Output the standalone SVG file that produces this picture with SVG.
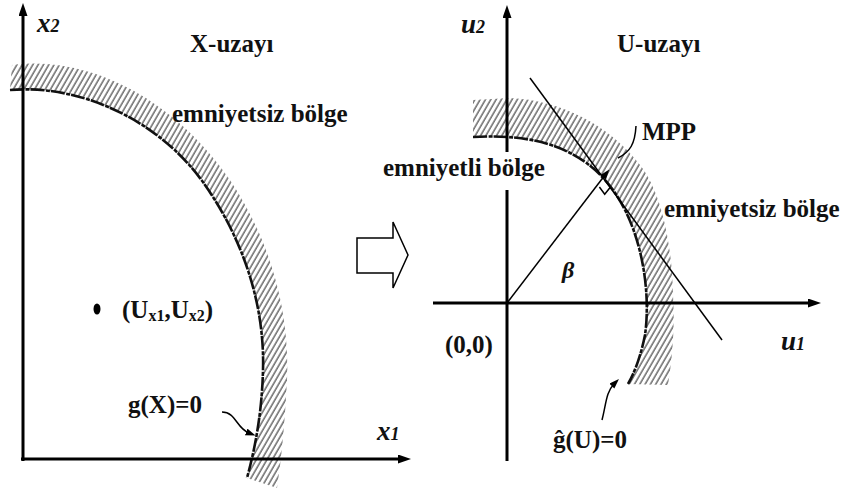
<svg xmlns="http://www.w3.org/2000/svg" width="846" height="491" viewBox="0 0 846 491">
<defs>
<pattern id="hatch" patternUnits="userSpaceOnUse" width="4.6" height="10" patternTransform="rotate(30)">
<rect width="4.6" height="10" fill="#ffffff"/>
<line x1="1" y1="0" x2="1" y2="10" stroke="#333" stroke-width="1.1"/>
</pattern>
<marker id="axisHead" markerUnits="userSpaceOnUse" markerWidth="14" markerHeight="10" refX="5" refY="4.5" orient="auto">
<path d="M0,0 L13,4.5 L0,9 z" fill="#000"/>
</marker>
<marker id="smallHead" markerUnits="userSpaceOnUse" markerWidth="12" markerHeight="10" refX="3" refY="3.5" orient="auto">
<path d="M0,0 L10,3.5 L0,7 z" fill="#000"/>
</marker>
</defs>
<style>
.lbl{font-family:"Liberation Serif","Times New Roman",serif;font-weight:bold;font-size:25px;fill:#111}
.ax{font-family:"Liberation Serif","Times New Roman",serif;font-weight:bold;font-style:italic;font-size:27px;fill:#111}
.sub{font-size:18px}
.lsub{font-size:16px}
.axis{stroke:#000;stroke-width:3;fill:none}
.thin{stroke:#000;stroke-width:1.5;fill:none}
.band{fill:url(#hatch);stroke:none}
.limit{stroke:#111;stroke-width:2.6;fill:none;stroke-dasharray:14 1.5 4 1}
</style>
<rect width="846" height="491" fill="#ffffff"/>

<g id="x-space">
<path class="band" d="M10,90 C80,84 160,120 205,185 C240,235 265,300 263,370 C262,410 256,445 247,478 L277,488 C282,455 285,420 287,380 C290,310 270,240 230,180 C175,100 90,55 12,65 Z"/>
<path class="limit" d="M10,90 C80,84 160,120 205,185 C240,235 265,300 263,370 C262,410 256,445 247,478"/>
<line class="axis" x1="23" y1="461" x2="23" y2="11" marker-end="url(#axisHead)"/>
<line class="axis" x1="21" y1="459" x2="403" y2="459" marker-end="url(#axisHead)"/>
<text class="ax" x="37" y="32">x<tspan class="sub">2</tspan></text>
<text class="ax" x="377" y="440">x<tspan class="sub">1</tspan></text>
<text class="lbl" x="190" y="52">X-uzayı</text>
<text class="lbl" x="172" y="122">emniyetsiz bölge</text>
<ellipse cx="97" cy="309" rx="3.5" ry="5.5" fill="#000"/>
<text class="lbl" x="122" y="318">(U<tspan class="lsub" dy="3">x1</tspan><tspan dy="-3">,U</tspan><tspan class="lsub" dy="3">x2</tspan><tspan dy="-3">)</tspan></text>
<text class="lbl" x="128" y="413">g(X)=0</text>
</g>

<g id="transform-arrow">
<polygon points="357,238 393,238 393,222 408,255 393,288 393,273 357,273" fill="#fff" stroke="#000" stroke-width="1.5" stroke-linejoin="miter"/>
</g>

<g id="u-space">
<path class="band" d="M473,100 L473,137 C540,133 595,150 625,210 C645,250 650,300 645,335 C641,355 635,372 628,384 L668,385 C672,360 675,330 673,295 C672,240 660,190 640,165 C610,125 560,100 510,98 Z"/>
<path class="limit" d="M473,137 C540,133 595,150 625,210 C645,250 650,300 645,335 C641,355 635,372 628,384"/>
<line class="axis" x1="507" y1="152" x2="507" y2="13" marker-end="url(#axisHead)"/>
<line class="axis" x1="507" y1="190" x2="507" y2="461"/>
<line class="axis" x1="433" y1="303" x2="813" y2="303" marker-end="url(#axisHead)"/>
<text class="ax" x="461" y="33">u<tspan class="sub">2</tspan></text>
<text class="ax" x="781" y="350">u<tspan class="sub">1</tspan></text>
<text class="lbl" x="617" y="52">U-uzayı</text>
<text class="lbl" x="383" y="176">emniyetli bölge</text>
<text class="lbl" x="664" y="217">emniyetsiz bölge</text>
<text class="lbl" x="642" y="140">MPP</text>
<text class="lbl" x="445" y="353">(0,0)</text>
<text class="lbl" x="553" y="448">ĝ(U)=0</text>
<text class="ax" x="562" y="278" style="font-size:24px">β</text>
</g>

<g id="connectors">
<line class="thin" x1="530" y1="78" x2="722" y2="340"/>
<line class="thin" x1="507" y1="303" x2="605" y2="175" marker-end="url(#smallHead)"/>
<polyline class="thin" points="610.3,187.3 604.7,194.3 599.4,187" stroke-width="1.2"/>
<path class="thin" d="M636,126 C635,144 630,152 618,158"/>
<path class="thin" d="M222,412 C236,412 236,428 249,433" marker-end="url(#smallHead)"/>
<path class="thin" d="M602,420 C606,405 606,392 614,384" marker-end="url(#smallHead)"/>
</g>
</svg>
